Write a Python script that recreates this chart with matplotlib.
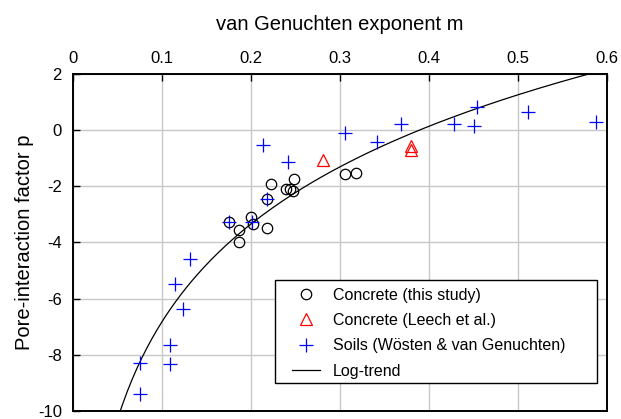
import numpy as np
import matplotlib
matplotlib.use("Agg")
import matplotlib.pyplot as plt
from matplotlib.patches import Rectangle

plt.rcParams['font.family'] = ['Liberation Sans', 'DejaVu Sans']
plt.rcParams['axes.unicode_minus'] = False

# concrete, this study
conc_m = [0.175, 0.187, 0.187, 0.200, 0.202, 0.218, 0.218, 0.222, 0.239, 0.244, 0.248, 0.247, 0.306, 0.318]
conc_p = [-3.27, -3.56, -3.98, -3.09, -3.34, -3.49, -2.45, -1.92, -2.10, -2.10, -1.74, -2.17, -1.56, -1.53]

# concrete, Leech et al.
leech_m = [0.281, 0.380, 0.380]
leech_p = [-1.06, -0.55, -0.70]

# soils, Wosten & van Genuchten
soil_m = [0.075, 0.075, 0.109, 0.109, 0.115, 0.124, 0.131, 0.175, 0.201, 0.213, 0.218,
          0.242, 0.306, 0.341, 0.368, 0.428, 0.451, 0.454, 0.511, 0.588]
soil_p = [-8.30, -9.40, -7.65, -8.34, -5.49, -6.38, -4.60, -3.28, -3.26, -0.53, -2.46,
          -1.14, -0.11, -0.41, 0.22, 0.21, 0.15, 0.84, 0.66, 0.30]

# log-trend p = a*ln(m) + b
trend_a = 5.02
trend_b = 4.74
trend_range = [0.05, 0.6]

fig = plt.figure(figsize=(6.21, 4.19), dpi=100)
ax = fig.add_axes([0.1176, 0.0191, 0.860, 0.8043])

mm = np.linspace(trend_range[0], trend_range[1], 200)
ax.plot(mm, trend_a * np.log(mm) + trend_b, color='black', lw=0.9, label='Log-trend', zorder=3)
ax.plot(conc_m, conc_p, 'o', mfc='none', mec='black', ms=7.5, mew=0.9, label='Concrete (this study)', zorder=4)
ax.plot(leech_m, leech_p, '^', mfc='none', mec='red', ms=8, mew=0.9, label='Concrete (Leech et al.)', zorder=4)
ax.plot(soil_m, soil_p, '+', color='blue', ms=10, mew=0.9, label='Soils (Wösten & van Genuchten)', zorder=4)

ax.set_xlim(0, 0.6)
ax.set_ylim(-10, 2)
ax.set_xticks(np.arange(0, 0.61, 0.1))
ax.set_xticklabels(['0', '0.1', '0.2', '0.3', '0.4', '0.5', '0.6'])
ax.set_yticks(range(-10, 3, 2))
ax.xaxis.tick_top()
ax.xaxis.set_label_position('top')
ax.tick_params(direction='in', length=5, width=1, labelsize=12, pad=6)
ax.tick_params(axis='y', pad=8)
ax.grid(True, color='#c8c8c8', lw=1)
ax.set_axisbelow(True)
for s in ax.spines.values():
    s.set_linewidth(1.4)

ax.set_xlabel('van Genuchten exponent m', fontsize=14.5, labelpad=15)
ax.set_ylabel('Pore-interaction factor p', fontsize=14.5, labelpad=3)

# legend frame drawn separately so the padding can match
ax.add_patch(Rectangle((0.378, 0.083), 0.603, 0.306, transform=ax.transAxes,
                       facecolor='white', edgecolor='black', lw=1, zorder=5))
h, l = ax.get_legend_handles_labels()
order = [1, 2, 3, 0]
leg = ax.legend([h[i] for i in order], [l[i] for i in order], loc='upper left',
                bbox_to_anchor=(0.410, 0.366), borderaxespad=0, borderpad=0,
                frameon=False, fontsize=11.5, handlelength=1.75, handletextpad=0.8,
                labelspacing=0.65)
leg.set_zorder(6)

fig.savefig('out.png', dpi=100)
